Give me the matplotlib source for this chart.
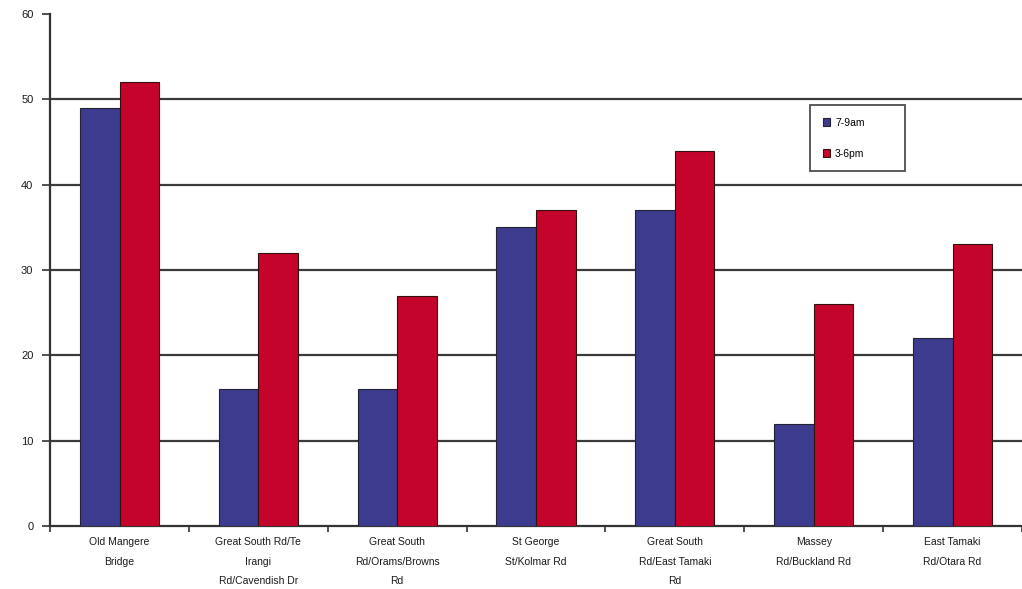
import matplotlib
matplotlib.use("Agg")
import matplotlib.pyplot as plt
import numpy as np

# Sites and counts for the two survey periods
sites = [
    "Old Mangere\nBridge",
    "Great South Rd/Te\nIrangi\nRd/Cavendish Dr",
    "Great South\nRd/Orams/Browns\nRd",
    "St George\nSt/Kolmar Rd",
    "Great South\nRd/East Tamaki\nRd",
    "Massey\nRd/Buckland Rd",
    "East Tamaki\nRd/Otara Rd",
]
morning = [49, 16, 16, 35, 37, 12, 22]
afternoon = [52, 32, 27, 37, 44, 26, 33]
series_labels = ["7-9am", "3-6pm"]
y_ticks = [0, 10, 20, 30, 40, 50, 60]

plt.rcParams["font.family"] = ["Liberation Sans", "DejaVu Sans"]

fig = plt.figure(figsize=(10.22, 5.89), dpi=100)
ax = fig.add_axes([0.049, 0.107, 0.951, 0.869])

x = np.arange(len(sites))
w = 0.285
blue = "#3d3b8e"
red = "#c4042a"
ax.bar(x - w / 2, morning, w, color=blue, edgecolor="#222233", linewidth=0.8,
       label=series_labels[0], zorder=3)
ax.bar(x + w / 2, afternoon, w, color=red, edgecolor="#331111", linewidth=0.8,
       label=series_labels[1], zorder=3)

ax.set_xlim(-0.5, len(sites) - 0.5)
ax.set_ylim(0, 60)
ax.set_yticks(y_ticks)
ax.set_yticklabels([str(v) for v in y_ticks], fontsize=8)

# Horizontal gridlines for the interior tick values only
for v in y_ticks[1:-1]:
    ax.axhline(v, color="#3a3a3a", linewidth=1.6, zorder=0)

# Category labels centred under groups, tick marks at group boundaries
ax.set_xticks(x)
ax.set_xticklabels(sites, fontsize=7.5, linespacing=2.2, color="#1a1a1a")
ax.tick_params(axis="x", length=0, pad=8)
ax.set_xticks(np.arange(len(sites) + 1) - 0.5, minor=True)
ax.tick_params(axis="x", which="minor", length=4, width=1.2, color="#333333",
               direction="out")
ax.tick_params(axis="y", length=6, width=1.2, color="#333333", pad=6,
               labelcolor="#1a1a1a")

for side in ("top", "right"):
    ax.spines[side].set_visible(False)
for side in ("left", "bottom"):
    ax.spines[side].set_color("#333333")
    ax.spines[side].set_linewidth(1.6)

leg = ax.legend(loc="upper left", bbox_to_anchor=(0.782, 0.822, 0.098, 0.0),
                mode="expand", fontsize=7.5,
                frameon=True, fancybox=False, edgecolor="#222222",
                handlelength=0.7, handleheight=0.7, handletextpad=0.5,
                labelspacing=2.0, borderpad=1.2, borderaxespad=0)
leg.get_frame().set_linewidth(1.3)

fig.savefig("out.png", dpi=100)
